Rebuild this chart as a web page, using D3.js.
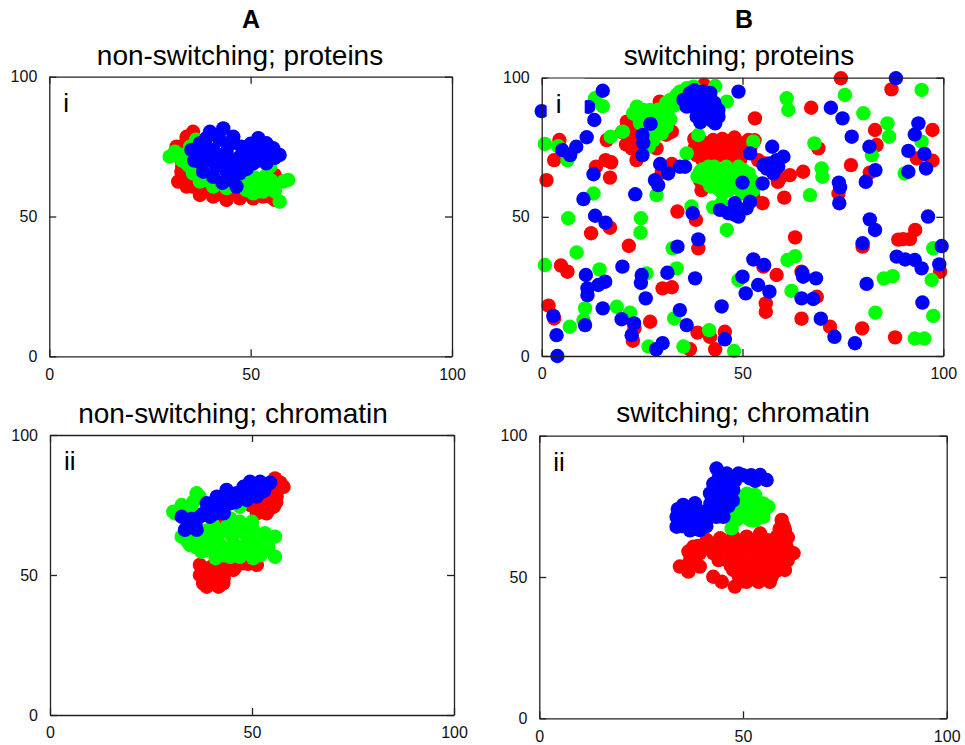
<!DOCTYPE html>
<html>
<head>
<meta charset="utf-8">
<script src="https://cdn.jsdelivr.net/npm/d3@7"></script>
<style>
  body { margin: 0; background: #fff; }
  svg { font-family: "Liberation Sans", Arial, sans-serif; }
</style>
</head>
<body>
<div id="chart"></div>
<script>
// tick values shared by every panel
const ticks = [0, 50, 100];

// A (i): non-switching; proteins
const nsProtRed = [[31.6,75.0],[34.1,78.5],[35.7,80.3],[32.8,70.2],[32.8,66.0],[32.0,62.5],[34.1,60.7],[35.7,60.7],
  [37.4,57.7],[40.7,57.1],[44.0,55.9],[47.3,56.5],[50.6,56.5],[53.1,57.1],[56.0,55.9],[55.6,58.9],[56.0,64.8],
  [33,64],[35,62],[38,59],[42,58],[46,58],[49,58],[52,58],[55,57],[33,68],[33,73],[34,77]];
const nsProtGreen = [[29.9,71.4],[31.2,73.2],[34.1,69.0],[35.7,65.4],[37.4,62.5],[40.7,60.7],[44.0,60.1],[47.3,61.9],
  [50.6,61.9],[52.3,63.1],[53.9,64.8],[54.8,60.7],[53.1,58.9],[50.6,58.3],[58.1,62.5],[59.3,63.1],[57.2,55.3],
  [36.6,75.0],[34.9,67.8],[54.8,67.8],[48.9,59.5],[33,70],[36,66],[39,63],[42,62],[45,62],[48,63],[51,64],
  [53,61],[55,63],[56,59],[52,59],[49,60],[33,72],[36,72],[35,75],[36.5,77.5]];
const nsProtBlue = [[35.3,73.8],[37.4,76.2],[39.9,80.3],[43.2,81.5],[45.7,78.5],[47.7,75.0],[40.7,73.8],[44.0,73.2],
  [37.8,69.0],[41.5,67.8],[45.7,69.0],[49.4,70.8],[51.9,78.0],[53.9,76.2],[55.6,74.4],[57.2,72.0],[51.4,72.6],
  [53.9,69.0],[40.7,64.2],[44.0,63.1],[46.5,60.7],[47.3,65.4],[38.2,66.0],[50.6,69.0],[42.3,77.4],[37.4,72.6],
  [39,78],[42,79],[45,76],[48,72],[39,75],[42,71],[44,70],[47,71],[39,71],[36,70],[41,69],[44,66],[47,67],
  [43,62],[45,64],[49,74],[52,75],[55,72],[53,72],[50,76],[54,74],[49,67],[52,70],[56,71]];

// B (i): switching; proteins
const swProtRed = [[74.5,99.8],[87.1,95.8],[67.1,89.2],[53.1,85.4],[97.3,81.2],[83.0,81.2],[83.4,75.8],[68.9,74.6],
  [77.0,68.6],[93.4,71.0],[97.3,70.2],[81.7,65.9],[65.1,66.2],[61.8,65.0],[58.8,62.6],[60.4,56.9],[55.0,54.9],
  [73.9,58.4],[63.1,42.6],[88.8,41.8],[90.0,42.0],[91.7,42.0],[93.0,45.3],[79.9,39.3],[99.2,30.3],[58.5,29.1],
  [55.2,32.1],[64.7,30.3],[68.5,21.3],[55.8,18.9],[55.8,15.9],[64.7,13.4],[71.8,10.5],[79.8,9.9],[88.0,6.7],
  [1.2,63.2],[3.1,70.4],[4.4,77.6],[4.8,32.5],[6.4,30.3],[1.7,18.1],[3.1,13.5],[12.3,44.1],[13.5,68.0],[15.9,70.4],
  [17.3,69.6],[17.0,64.1],[16.2,77.6],[17.0,46.1],[21.7,39.6],[21.2,84.2],[22.8,81.8],[21.5,79.4],[23.6,77.0],
  [22.4,74.6],[26.1,80.6],[29.4,91.4],[31.1,80.6],[32.4,80.6],[28.6,74.6],[23.6,70.4],[29.9,65.9],[30.1,24.3],
  [32.4,24.7],[27.0,12.3],[23.1,9.9],[22.7,5.5],[33.8,51.9],[38.4,48.9],[39.0,38.7],[32.4,69.0],[36.9,2.4],
  [38.8,8.4],[41.9,6.9],[43.2,2.4],[45.6,8.7],[38.2,75.2],[39.4,77.6],[41.1,76.4],[42.7,77.6],[44.4,76.4],
  [46.5,77.0],[48.5,77.0],[50.2,76.4],[51.5,77.6],[39.4,72.8],[41.9,73.4],[43.6,74.6],[38.6,72.2],[49.4,70.4],
  [40.4,97.4],[46.9,68.6],[39.4,63.2],[39.8,59.6],[53.9,70.4],[55.6,69.2],[57.7,65.6],[59.3,63.8],[52.7,57.2],
  [38,78],[40,75],[43,75.5],[45,75],[47,75],[49,74.5],[45,78],[48,78.5],[52,75],[53,77.5],[40,70.5],[42,71],
  [44,72],[46,72.5],[48,73],[20,80.5],[22,78],[24,74],[21,76],[24,79],[29.5,82],[31,79.5]];
const swProtGreen = [[75.5,93.8],[94.6,95.6],[61.0,92.6],[61.4,88.4],[80.1,87.2],[86.1,83.6],[86.5,78.8],[67.9,76.4],
  [94.6,77.0],[82.2,72.2],[69.7,67.4],[69.9,64.4],[90.4,65.6],[66.8,57.8],[52.7,77.0],[97.5,38.7],[97.1,27.3],
  [97.5,14.4],[85.2,27.9],[87.4,28.7],[83.1,15.6],[92.9,6.3],[95.3,6.3],[61.2,34.5],[63.1,35.9],[62.2,23.4],
  [49.0,27.3],[47.9,1.8],[41.7,9.3],[46.1,45.3],[42.7,53.4],[44.8,54.9],[37.3,53.7],[0.8,32.7],[0.8,76.2],[6.6,49.5],
  [4.1,75.4],[6.4,70.4],[8.7,37.2],[13.3,92.6],[15.2,89.8],[12.9,58.4],[14.4,31.1],[10.8,17.1],[10.4,12.9],
  [7.0,10.5],[18.7,17.7],[22.0,15.6],[24.7,49.5],[24.6,44.3],[26.1,29.7],[28.6,57.8],[26.6,3.4],[32.6,38.7],
  [33.6,31.5],[33.0,13.5],[35.3,3.4],[36.1,72.8],[39.0,79.4],[46.1,91.4],[43.2,97.0],[20.2,80.6],[17.2,78.8],
  [23.7,89.6],[25.3,88.4],[27.0,88.4],[22.8,87.2],[24.5,83.6],[27.8,84.8],[30.3,86.0],[31.1,82.4],[29.9,80.0],
  [27.8,77.6],[26.6,75.2],[32.0,92.0],[33.6,93.8],[34.4,95.0],[36.1,96.2],[37.8,96.8],[31.5,88.4],
  [39.4,66.2],[41.5,68.0],[43.6,66.8],[45.6,66.2],[47.7,65.6],[50.2,66.8],[51.5,65.6],[41.1,63.2],[43.6,62.6],
  [46.1,62.6],[48.1,60.8],[51.2,60.8],[52.7,59.6],[49.4,59.6],[46.5,59.6],[42.7,65.0],[52.3,63.2],
  [40,67],[43,68],[46,68],[49,68],[40,64],[45,64],[48,63],[50,64],[44,60],[47,61],[50,58.5],[53,62],[45,58.5],
  [42,61],[38.8,64.5],[41,65],[24,86],[26,86],[28,86],[29,83],[26,82],[28,81],[30,84],[32,85],[33,90],
  [29,88.5],[31,91]];
const swProtBlue = [[88.2,99.8],[49.0,95.0],[72.0,89.2],[74.9,85.4],[77.2,78.8],[81.6,75.2],[93.8,83.6],[92.9,79.6],
  [91.3,73.7],[95.3,72.6],[95.7,67.4],[91.3,66.2],[83.1,66.8],[80.7,62.6],[74.0,62.3],[74.3,60.6],[74.1,54.9],
  [57.4,75.2],[51.9,72.8],[55.2,68.6],[56.8,69.2],[58.5,70.4],[60.2,71.6],[57.7,65.6],[56.0,67.4],[58.9,68.0],
  [55.0,62.0],[50.0,62.3],[44.4,52.5],[46.5,51.3],[48.1,50.7],[49.0,50.1],[51.0,53.1],[51.9,55.4],[48.1,54.9],
  [96.2,50.1],[99.6,39.5],[99.0,32.9],[88.4,35.7],[90.5,34.7],[92.9,34.5],[94.6,31.5],[81.7,49.1],[83.0,45.3],
  [79.9,40.5],[80.9,25.9],[94.8,19.2],[78.0,4.6],[72.9,6.9],[69.5,13.4],[64.7,20.7],[67.6,20.5],[64.9,29.9],
  [65.1,28.5],[68.3,27.9],[52.7,34.7],[55.4,32.7],[53.9,25.5],[56.7,23.1],[50.0,28.5],[50.8,22.5],[44.8,17.8],
  [45.6,6.0],[39.0,41.9],[37.6,51.3],[38.2,27.9],[36.1,11.1],[34.4,16.5],[33.8,39.3],[31.3,29.9],[30.1,4.6],
  [28.5,2.4],[25.9,20.7],[24.9,29.1],[24.7,26.3],[23.0,11.7],[22.4,7.5],[20.1,32.1],[19.9,13.2],[23.3,58.1],
  [15.2,17.1],[15.8,26.7],[14.1,25.5],[11.4,24.3],[11.4,21.9],[11.0,29.1],[10.8,11.1],[2.9,14.4],[3.7,7.5],
  [3.9,0.0],[10.4,56.4],[13.3,50.4],[15.9,47.9],[12.9,65.3],[11.2,78.6],[13.1,84.8],[15.2,95.3],[0.0,88.0],
  [11.6,89.5],[5.1,74.0],[7.1,72.2],[8.6,75.2],[25.1,79.4],[25.3,76.6],[25.1,72.2],[27.1,83.4],[28.2,63.2],
  [29.0,61.4],[29.5,69.0],[31.5,65.6],[34.4,68.0],[35.7,68.0],
  [35.3,92.0],[36.9,94.4],[38.6,93.2],[40.2,95.0],[41.9,92.0],[42.7,88.4],[44.0,88.4],[43.2,83.6],[37.8,89.6],
  [39.4,87.2],[36.1,89.6],[41.1,89.6],[38.6,86.0],[41.9,86.0],[37,91.5],[40,91],[43,91],[40,88],[38,95.5],
  [42,94.5],[44,86],[39.5,84],[42.5,84.5]];

// A (ii): non-switching; chromatin
const nsChromRed = [[55.7,84.5],[57.8,81.5],[56.1,78.0],[55.4,74.4],[53.6,72.0],[51.2,72.0],[49.5,75.0],[42.9,69.6],
  [37.1,53.6],[37.9,47.0],[38.8,45.8],[41.7,45.8],[42.9,47.0],[40.4,50.6],[45.4,51.8],[47.9,54.2],[51.2,53.6],
  [41.3,54.8],[37.1,50.0],[44.6,54.8],[39,48],[41,50],[43,49],[44,52],[46,53],[49,54],[40,53],[38,52],[42,53],
  [50,55.5],[54,76],[56,80],[55,82],[57,83],[52,74],[54,73],[56,76],[53,78]];
const nsChromGreen = [[30.5,72.6],[32.6,75.0],[36.3,79.2],[35.5,76.2],[32.6,63.7],[34.7,60.7],[37.5,58.3],[40.8,60.1],
  [44.6,56.5],[47.0,56.5],[50.3,56.0],[53.6,58.9],[55.7,63.7],[55.7,56.5],[40.4,67.9],[43.7,67.3],[47.0,69.0],
  [50.3,66.1],[53.2,64.9],[45.4,61.3],[41.3,63.7],[37.1,62.5],[48.7,61.3],[52.0,60.7],[47.0,74.4],[44.6,70.2],
  [36,60],[39,59],[42,58],[45,58],[48,58],[51,58],[54,60],[39,62],[42,61],[45,60],[48,60],[51,62],[54,62],
  [36,64],[39,66],[42,65],[45,64],[48,65],[51,64],[44,67],[47,67],[50,69],[36,63],[34,62],[43,57],[46,57],
  [52,57],[41,56],[31,72],[33,74],[35,73],[37,78]];
const nsChromBlue = [[32.6,70.8],[33.4,66.1],[36.3,66.1],[37.1,70.8],[38.8,75.6],[41.3,78.0],[43.7,80.4],[44.6,75.6],
  [46.2,79.2],[47.9,81.5],[49.5,83.3],[52.0,83.3],[53.6,82.1],[51.2,78.0],[48.7,76.8],[42.1,74.4],[39.6,70.8],
  [34.7,68.5],[35,70],[38,72],[40,74],[42,76],[45,78],[47,78],[49,80],[51,81],[53,80],[50,79],[46,76],[43,72],
  [41,72],[36,68],[34,67.5],[43,77],[48,81],[54.5,83]];

// B (ii): switching; chromatin
const swChromRed = [[59.5,70.2],[60.3,66.6],[58.3,64.3],[54.2,65.4],[50.9,64.3],[47.6,64.3],[44.4,63.7],[41.1,63.1],
  [37.8,60.7],[36.6,59.0],[34.5,53.7],[36.6,51.9],[39.4,53.7],[42.7,50.1],[44.8,48.3],[48.0,46.6],[50.9,48.3],
  [53.8,48.3],[56.6,48.3],[60.3,52.5],[62.4,58.4],[60.7,60.7],[42.7,58.4],[46.0,56.0],[49.3,57.2],[52.5,58.4],
  [55.8,57.2],[58.3,57.2],[47.6,52.5],[50.9,52.5],[54.2,53.7],[57.4,54.8],[39.4,58.4],[49.3,60.7],[55.0,61.3],
  [58.3,60.7],[46.0,60.7],[52.5,50.1],[55.8,51.3],[39,61],[42,61],[44,60],[47,58],[50,59],[53,60],[56,59],
  [59,59],[61,56],[59,62],[56,63],[53,63],[50,62],[47,62],[44,61],[44,56],[47,54],[50,55],[53,56],[56,55],
  [59,54],[49,50],[52,52],[55,53],[58,52],[50,48.5],[54,50],[57,50],[60,62],[61,64],[59,67],[60,68],[37,56],
  [38,59]];
const swChromGreen = [[50.1,78.4],[52.9,78.4],[56.2,74.9],[55.0,71.3],[51.7,70.2],[48.4,70.2],[47.2,67.2],[50.1,74.9],
  [44.3,75.5],[49,77],[51,76],[53,76],[55,76],[50,73],[52,73],[54,73],[49,71],[53,70],[47,72],[55,73],[48,75],
  [51,79.5],[53,79]];
const swChromBlue = [[43.5,88.4],[46.0,86.6],[48.9,86.6],[51.7,84.9],[54.2,86.1],[55.8,84.3],[42.7,83.0],[41.9,79.6],
  [45.2,80.8],[47.6,80.8],[44.3,77.4],[46.4,75.1],[35.3,75.5],[38.2,76.1],[33.7,71.3],[33.7,67.8],[37.0,69.0],
  [39.4,66.6],[41.1,70.2],[43.5,71.3],[45.2,71.3],[40.3,73.1],[44,85],[46,84],[48,84],[50,86],[52,86],[53,84],
  [43,81],[44,79],[46,78],[45,73],[43,74],[42,76],[44,83],[35,71],[36,73],[38,73],[39,70],[37,66.5],[35,68],
  [41,68],[42,72],[34,74],[47.5,77],[38,69]];

const colors = { red: "#ff0000", green: "#00ff00", blue: "#0000ff" };

const svg = d3.select("#chart").append("svg")
  .attr("width", 965)
  .attr("height", 745);

// column headers
svg.append("text").attr("x", 251).attr("y", 28).attr("text-anchor", "middle")
  .attr("font-size", 25).attr("font-weight", "bold").text("A");
svg.append("text").attr("x", 744).attr("y", 28).attr("text-anchor", "middle")
  .attr("font-size", 25).attr("font-weight", "bold").text("B");

const panels = [
  { title: "non-switching; proteins", tag: "i", x0: 49.3, x1: 452, y0: 356.3, y1: 76.7, tx: 240, ty: 65,
    red: nsProtRed, green: nsProtGreen, blue: nsProtBlue, box: false },
  { title: "switching; proteins", tag: "i", x0: 541.7, x1: 943.3, y0: 356, y1: 77.7, tx: 739, ty: 65,
    red: swProtRed, green: swProtGreen, blue: swProtBlue, box: true },
  { title: "non-switching; chromatin", tag: "ii", x0: 50, x1: 454, y0: 715, y1: 435, tx: 233, ty: 423,
    red: nsChromRed, green: nsChromGreen, blue: nsChromBlue, box: false },
  { title: "switching; chromatin", tag: "ii", x0: 539.3, x1: 946.7, y0: 718.3, y1: 435.7, tx: 743, ty: 422,
    red: swChromRed, green: swChromGreen, blue: swChromBlue, box: false }
];

panels.forEach(p => {
  const x = d3.scaleLinear().domain([0, 100]).range([p.x0, p.x1]);
  const y = d3.scaleLinear().domain([0, 100]).range([p.y0, p.y1]);
  const g = svg.append("g");

  g.append("text")
    .attr("x", p.tx)
    .attr("y", p.ty)
    .attr("text-anchor", "middle")
    .attr("font-size", 28)
    .text(p.title);

  // points: red, then green, then blue on top
  ["red", "green", "blue"].forEach(c => {
    g.append("g").selectAll("circle")
      .data(p[c])
      .join("circle")
      .attr("cx", d => x(d[0]))
      .attr("cy", d => y(d[1]))
      .attr("r", 7.2)
      .attr("fill", colors[c]);
  });

  // frame + inward ticks on all sides
  const axes = [
    { ax: d3.axisBottom(x), tr: `translate(0,${p.y0})`, lab: true },
    { ax: d3.axisLeft(y), tr: `translate(${p.x0},0)`, lab: true },
    { ax: d3.axisTop(x), tr: `translate(0,${p.y1})`, lab: false },
    { ax: d3.axisRight(y), tr: `translate(${p.x1},0)`, lab: false }
  ];
  axes.forEach(a => {
    const ag = g.append("g")
      .attr("transform", a.tr)
      .call(a.ax.tickValues(ticks).tickSizeInner(-7).tickSizeOuter(0).tickPadding(12)
        .tickFormat(a.lab ? d3.format("d") : ""));
    ag.select(".domain").attr("stroke", "#222").attr("stroke-width", 1.3);
    ag.selectAll(".tick line").attr("stroke", "#222").attr("stroke-width", 1.3);
    ag.selectAll(".tick text").attr("font-size", 16).attr("fill", "#111")
      .attr("font-family", "\"Liberation Sans\", Arial, sans-serif");
  });

  // panel tag (the protein panel in B has a white box behind it)
  if (p.box) {
    g.append("rect").attr("x", p.x0 + 5).attr("y", p.y1 + 1)
      .attr("width", 38).attr("height", 40).attr("fill", "#fff");
  }
  g.append("text")
    .attr("x", p.x0 + 14)
    .attr("y", p.y1 + 35)
    .attr("font-size", 26)
    .text(p.tag);
});
</script>
</body>
</html>
